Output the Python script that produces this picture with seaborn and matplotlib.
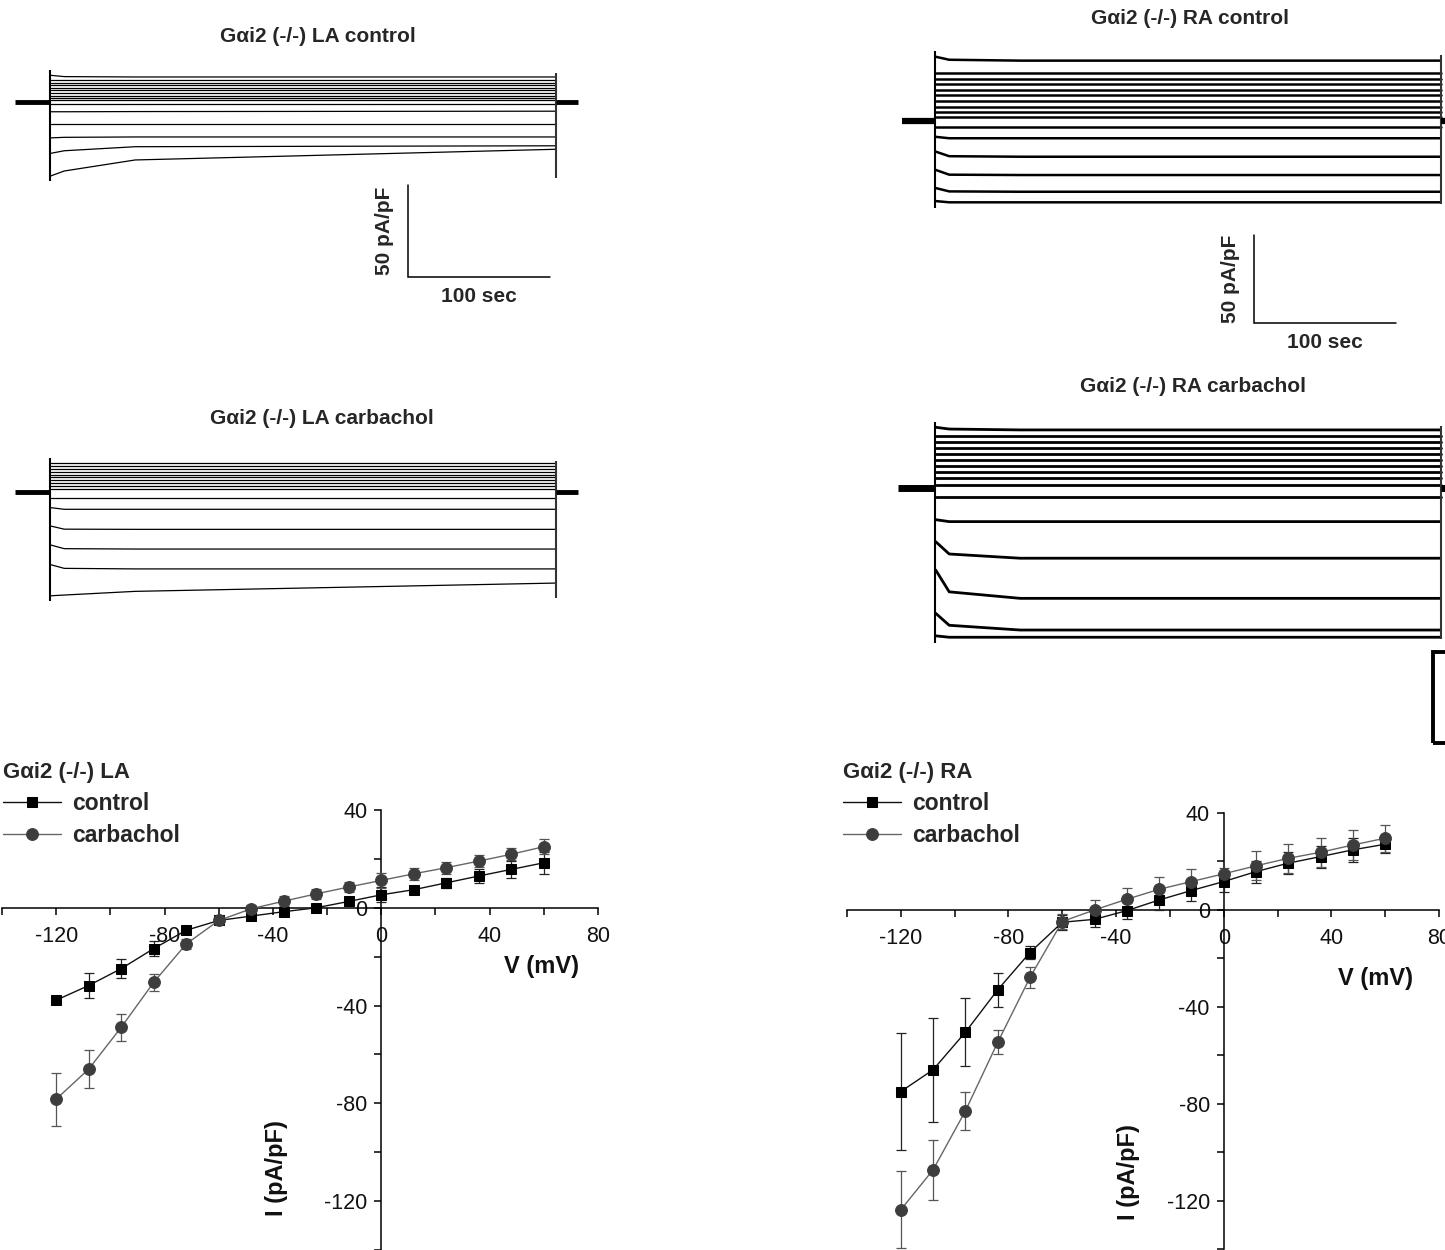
import numpy as np
import pandas as pd
import matplotlib
matplotlib.use("Agg")
import matplotlib.pyplot as plt
import seaborn as sns
from matplotlib.ticker import MultipleLocator
from matplotlib.patches import Rectangle

# ---------------- data ----------------
voltage = [-120, -108, -96, -84, -72, -60, -48, -36, -24, -12, 0, 12, 24, 36, 48, 60]

la_control_i = [-37.8, -31.8, -24.9, -16.7, -9.2, -5.2, -3.4, -1.6, 0.0, 2.6, 5.3, 7.4, 10.2, 13.0, 15.7, 18.4]
la_control_sem = [1.0, 5.3, 4.0, 3.0, 1.0, 1.5, 1.0, 1.0, 1.0, 1.0, 3.0, 1.5, 2.0, 3.0, 3.5, 4.5]
la_carb_i = [-78.3, -66.0, -48.9, -30.5, -14.8, -5.2, -0.4, 2.7, 5.7, 8.5, 11.2, 13.9, 16.4, 19.1, 21.9, 25.0]
la_carb_sem = [10.8, 7.8, 5.4, 3.4, 2.0, 1.5, 1.5, 2.0, 2.0, 2.0, 3.0, 2.5, 2.5, 2.5, 2.5, 3.0]

ra_control_i = [-75.0, -66.0, -50.5, -33.0, -17.6, -5.1, -3.9, -0.3, 4.1, 8.0, 11.7, 15.8, 19.3, 22.0, 24.8, 27.1]
ra_control_sem = [24.0, 21.5, 14.0, 7.0, 2.5, 3.0, 3.0, 3.5, 4.0, 4.5, 4.5, 4.5, 4.5, 4.5, 5.0, 3.5]
ra_carb_i = [-123.8, -107.3, -83.0, -54.7, -27.9, -4.8, 0.0, 4.4, 8.5, 11.7, 14.9, 18.2, 21.3, 23.8, 26.8, 29.6]
ra_carb_sem = [15.8, 12.4, 7.9, 5.0, 4.5, 3.0, 4.0, 4.5, 5.0, 5.0, 2.5, 6.0, 6.0, 6.0, 6.0, 5.5]

# raw current traces (pA/pF) read at these times (sec) after the step
trace_t = [0.5, 10, 60, 356]

la_ctrl_t0 = [-40.2, -27.9, -19.5, -12.0, -5.3, -1.1, 1.1, 2.2, 3.5, 4.9, 6.3, 7.6, 9.0, 10.3, 12.0, 14.5]
la_ctrl_t10 = [-37.5, -26.5, -19.2, -12.0, -5.3, -1.1, 1.1, 2.2, 3.5, 4.9, 6.3, 7.6, 9.0, 10.3, 12.0, 13.8]
la_ctrl_t60 = [-31.5, -24.3, -19.0, -12.0, -5.2, -1.1, 1.1, 2.2, 3.5, 4.9, 6.3, 7.6, 9.0, 10.3, 12.0, 13.6]
la_ctrl_end = [-25.7, -23.8, -19.0, -12.0, -5.0, -1.1, 1.1, 2.2, 3.5, 4.9, 6.3, 7.6, 9.0, 10.3, 12.0, 13.6]

la_carb_t0 = [-56.4, -39.5, -28.8, -18.5, -8.5, -3.4, 1.6, 3.3, 4.9, 6.5, 8.2, 9.5, 10.9, 12.5, 14.1, 15.6]
la_carb_t10 = [-56.0, -41.5, -30.8, -20.2, -9.4, -3.4, 1.6, 3.3, 4.9, 6.5, 8.2, 9.5, 10.9, 12.5, 14.1, 15.6]
la_carb_t60 = [-54.0, -41.8, -31.0, -20.3, -9.4, -3.4, 1.6, 3.3, 4.9, 6.5, 8.2, 9.5, 10.9, 12.5, 14.1, 15.6]
la_carb_end = [-49.5, -41.8, -31.0, -20.3, -9.4, -3.4, 1.6, 3.3, 4.9, 6.5, 8.2, 9.5, 10.9, 12.5, 14.1, 15.6]

ra_ctrl_t0 = [-45.5, -38.1, -27.8, -17.4, -9.0, -3.6, 2.4, 5.3, 8.1, 11.4, 14.8, 17.6, 20.9, 23.7, 27.1, 36.5]
ra_ctrl_t10 = [-46.2, -40.0, -30.5, -20.0, -9.8, -3.6, 2.4, 5.3, 8.1, 11.4, 14.8, 17.6, 20.9, 23.7, 27.1, 34.8]
ra_ctrl_t60 = [-46.2, -40.2, -30.7, -20.3, -9.8, -3.6, 2.4, 5.3, 8.1, 11.4, 14.8, 17.6, 20.9, 23.7, 27.1, 34.3]
ra_ctrl_end = [-46.2, -40.2, -30.7, -20.3, -9.8, -3.6, 2.4, 5.3, 8.1, 11.4, 14.8, 17.6, 20.9, 23.7, 27.1, 34.3]

ra_carb_t0 = [-84.0, -71.2, -46.6, -30.5, -18.0, -5.3, 1.7, 5.7, 9.1, 12.5, 15.9, 19.3, 22.7, 26.1, 29.5, 34.5]
ra_carb_t10 = [-84.8, -78.0, -59.0, -37.5, -19.1, -5.3, 1.7, 5.7, 9.1, 12.5, 15.9, 19.3, 22.7, 26.1, 29.5, 33.5]
ra_carb_t60 = [-84.8, -80.7, -62.7, -39.9, -19.1, -5.3, 1.7, 5.7, 9.1, 12.5, 15.9, 19.3, 22.7, 26.1, 29.5, 33.0]
ra_carb_end = [-84.8, -80.7, -62.7, -39.9, -19.1, -5.3, 1.7, 5.7, 9.1, 12.5, 15.9, 19.3, 22.7, 26.1, 29.5, 33.0]

# ---------------- style / layout ----------------
W, H = 1445, 1250
sns.set_theme(style="ticks")
plt.rcParams["font.family"] = ["Liberation Sans", "DejaVu Sans"]
plt.rcParams["axes.linewidth"] = 1.1
plt.rcParams["axes.unicode_minus"] = False

fig = plt.figure(figsize=(W / 100, H / 100), dpi=100)
fig.patch.set_facecolor("white")

SEC_PX = 1.42
PULSE_END = 356


def px_axes(px0, px1, py0, py1):
    return fig.add_axes([px0 / W, 1 - py1 / H, (px1 - px0) / W, (py1 - py0) / H])


def add_trace_axes(px0, px1, py0, py1, t0_px, base_py, unit_px):
    ax = px_axes(px0, px1, py0, py1)
    ax.set_xlim((px0 - t0_px) / SEC_PX, (px1 - t0_px) / SEC_PX)
    ax.set_ylim((base_py - py1) / unit_px, (base_py - py0) / unit_px)
    ax.set_axis_off()
    return ax


def draw_traces(ax, arrays, lw, hold_pre, hold_post, hold_lw):
    rows = []
    for k, v in enumerate(voltage):
        for t, arr in zip(trace_t, arrays):
            rows.append({"step": v, "t": t, "I": arr[k]})
    df = pd.DataFrame(rows)
    sns.lineplot(data=df, x="t", y="I", units="step", estimator=None, sort=False,
                 color="black", lw=lw, ax=ax, legend=False)
    lo = min(min(a) for a in arrays)
    hi = max(max(a) for a in arrays)
    ax.vlines(0, lo - 3, hi + 3, color="black", lw=1.5)
    ax.vlines(PULSE_END, lo - 1, hi + 1, color="#333333", lw=1.5)
    ax.plot([-hold_pre, 0], [0, 0], color="black", lw=hold_lw, solid_capstyle="butt")
    ax.plot([PULSE_END, PULSE_END + hold_post], [0, 0], color="black", lw=hold_lw,
            solid_capstyle="butt")


def scale_bar(ax, t, i, unit_px):
    ax.plot([t, t, t + 100], [i + 50, i, i], color="black", lw=1.1,
            solid_joinstyle="miter")
    ax.text(t - 23 / SEC_PX, i + 25, "50 pA/pF", rotation=90, ha="center", va="center",
            fontsize=15, fontweight="bold")
    ax.text(t + 50, i - 20 / unit_px, "100 sec", ha="center", va="center",
            fontsize=15, fontweight="bold")


# ---- LA control traces
ax_a = add_trace_axes(0, 600, 40, 310, 50, 102, 1.84)
draw_traces(ax_a, [la_ctrl_t0, la_ctrl_t10, la_ctrl_t60, la_ctrl_end], 0.9, 24.6, 15.5, 3.5)
scale_bar(ax_a, (408 - 50) / SEC_PX, (102 - 277) / 1.84, 1.84)
fig.text(318 / W, 1 - 37 / H, "G\u03b1i2 (-/-) LA control", ha="center", va="center",
         fontsize=15, fontweight="bold")

# ---- LA carbachol traces
ax_b = add_trace_axes(0, 600, 430, 615, 50, 492, 1.84)
draw_traces(ax_b, [la_carb_t0, la_carb_t10, la_carb_t60, la_carb_end], 0.9, 24.6, 15.5, 3.5)
fig.text(322 / W, 1 - 418 / H, "G\u03b1i2 (-/-) LA carbachol", ha="center", va="center",
         fontsize=15, fontweight="bold")

# ---- RA control traces
ax_c = add_trace_axes(880, 1445, 40, 360, 935, 121, 1.76)
draw_traces(ax_c, [ra_ctrl_t0, ra_ctrl_t10, ra_ctrl_t60, ra_ctrl_end], 1.8, 23.0, 15.0, 4.5)
scale_bar(ax_c, (1254 - 935) / SEC_PX, (121 - 323) / 1.76, 1.76)
fig.text(1190 / W, 1 - 18 / H, "G\u03b1i2 (-/-) RA control", ha="center", va="center",
         fontsize=15, fontweight="bold")

# ---- RA carbachol traces
ax_d = add_trace_axes(880, 1445, 410, 690, 935, 488, 1.76)
draw_traces(ax_d, [ra_carb_t0, ra_carb_t10, ra_carb_t60, ra_carb_end], 2.0, 26.0, 15.0, 5.0)
fig.text(1193 / W, 1 - 387 / H, "G\u03b1i2 (-/-) RA carbachol", ha="center", va="center",
         fontsize=15, fontweight="bold")

# cropped frame at the right edge
fig.add_artist(Rectangle((1433 / W, 1 - 743 / H), 30 / W, (743 - 652) / H, fill=False,
                         lw=2.8, ec="black", transform=fig.transFigure))


# ---------------- I-V panels ----------------
def iv_panel(px0, px1, py0, py1, ctrl, ctrl_sem, carb, carb_sem, title, leg_px,
             vlab, ilab):
    ax = px_axes(px0, px1, py0, py1)
    ax.set_facecolor("none")
    sns.lineplot(x=voltage, y=ctrl, ax=ax, color="#111111", lw=1.0, marker="s",
                 markersize=7.5, markeredgecolor="black", markerfacecolor="black",
                 label="control", zorder=4)
    ax.errorbar(voltage, ctrl, yerr=ctrl_sem, fmt="none", ecolor="#222222",
                elinewidth=0.9, capsize=3.5, capthick=0.9, zorder=3)
    sns.lineplot(x=voltage, y=carb, ax=ax, color="#666666", lw=1.0, marker="o",
                 markersize=8.5, markeredgecolor="#3d3d3d", markerfacecolor="#3d3d3d",
                 label="carbachol", zorder=4)
    ax.errorbar(voltage, carb, yerr=carb_sem, fmt="none", ecolor="#555555",
                elinewidth=0.9, capsize=3.5, capthick=0.9, zorder=3)

    ax.set_xlim(-140, 80)
    ax.set_ylim(-140, 40)
    for side in ("top", "right"):
        ax.spines[side].set_visible(False)
    ax.spines["left"].set_position(("data", 0))
    ax.spines["bottom"].set_position(("data", 0))
    ax.spines["left"].set_color("black")
    ax.spines["bottom"].set_color("black")
    ax.xaxis.set_major_locator(MultipleLocator(40))
    ax.xaxis.set_minor_locator(MultipleLocator(20))
    ax.yaxis.set_major_locator(MultipleLocator(40))
    ax.yaxis.set_minor_locator(MultipleLocator(20))
    ax.tick_params(axis="both", which="both", direction="out", length=5, width=1.1,
                   color="black", labelsize=15.5, labelcolor="#111111")
    ax.tick_params(axis="x", pad=8)
    ax.tick_params(axis="y", pad=5)

    ax.set_xlabel("V (mV)", fontsize=17, fontweight="bold", color="#111111")
    ax.set_ylabel("I (pA/pF)", fontsize=17, fontweight="bold", color="#111111")
    fw, fh = px1 - px0, py1 - py0
    ax.xaxis.set_label_coords((vlab[0] - px0) / fw, (py1 - vlab[1]) / fh)
    ax.xaxis.label.set_va("center")
    ax.yaxis.set_label_coords((ilab[0] - px0) / fw, (py1 - ilab[1]) / fh)
    ax.yaxis.label.set_va("center")

    handles, labels = ax.get_legend_handles_labels()
    ax.legend(handles, labels, title=title, loc="upper left",
              bbox_to_anchor=(leg_px[0] / W, 1 - leg_px[1] / H),
              bbox_transform=fig.transFigure, frameon=False,
              prop={"weight": "bold", "size": 16.5},
              title_fontproperties={"weight": "bold", "size": 16},
              handlelength=2.55, handletextpad=0.45, borderpad=0,
              borderaxespad=0, labelspacing=0.4, alignment="left")
    return ax


iv_panel(2, 598, 810, 1250, la_control_i, la_control_sem, la_carb_i, la_carb_sem,
         "G\u03b1i2 (-/-) LA", (3, 762), (541, 967), (276, 1168))
iv_panel(847, 1439, 813, 1249, ra_control_i, ra_control_sem, ra_carb_i, ra_carb_sem,
         "G\u03b1i2 (-/-) RA", (843, 762), (1376, 978), (1128, 1172))

fig.savefig("out.png", dpi=100, facecolor="white")
